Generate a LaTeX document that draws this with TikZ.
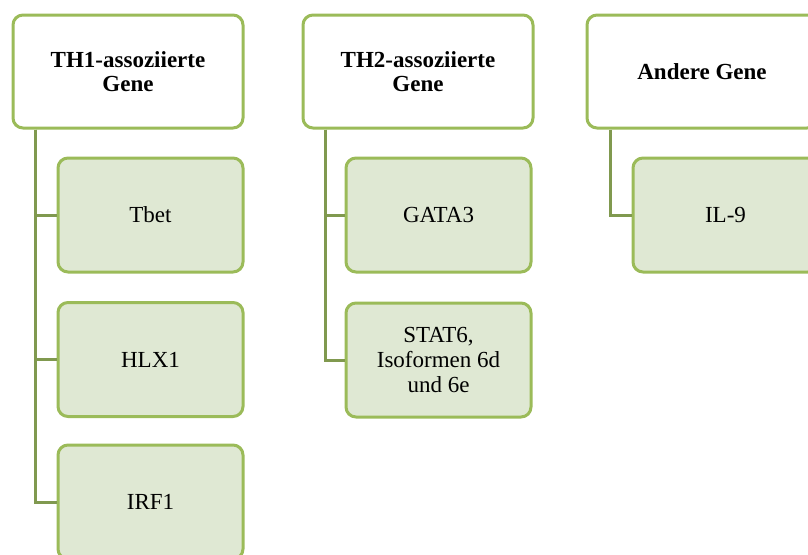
\documentclass[tikz,border=0pt]{standalone}
\usepackage{fontspec}
\setmainfont{Liberation Serif}
\definecolor{bordergreen}{HTML}{9BBB59}
\definecolor{conngreen}{HTML}{80994F}
\definecolor{childfill}{HTML}{DFE8D3}
\begin{document}
\begin{tikzpicture}[x=1pt,y=1pt,
  headbox/.style={draw=bordergreen, line width=3pt, rounded corners=10pt, fill=white,
    minimum width=230pt, minimum height=113pt, align=center,
    font=\fontsize{23}{24}\selectfont\bfseries},
  childbox/.style={draw=bordergreen, line width=3pt, rounded corners=10pt, fill=childfill,
    minimum width=185pt, minimum height=114pt, align=center,
    font=\fontsize{23}{25}\selectfont},
  conn/.style={draw=conngreen, line width=3pt}]
\useasboundingbox (0,0) rectangle (808,-554);
\clip (0,0) rectangle (808,-554);
% headers
\node[headbox] (h1) at (128,-71.5) {TH1-assoziierte\\Gene};
\node[headbox] (h2) at (418,-71.5) {TH2-assoziierte\\Gene};
\node[headbox] (h3) at (702,-71.5) {Andere Gene};
% children
\node[childbox] (tbet) at (150.5,-215) {Tbet};
\node[childbox] (hlx) at (150.5,-359.5) {HLX1};
\node[childbox] (irf) at (150.5,-502) {IRF1};
\node[childbox] (gata) at (438.5,-215) {GATA3};
\node[childbox] (stat) at (438.5,-360) {STAT6,\\Isoformen 6d\\und 6e};
\node[childbox] (il) at (725.5,-215) {IL-9};
% connectors
\coordinate (v1) at ([xshift=24pt]h1.south west);
\coordinate (v2) at ([xshift=24pt]h2.south west);
\coordinate (v3) at ([xshift=25pt]h3.south west);
\begin{scope}[on background layer/.style={}]
\draw[conn] (v1) |- (tbet.west);
\draw[conn] (v1) |- (hlx.west);
\draw[conn] (v1) |- (irf.west);
\draw[conn] (v2) |- (gata.west);
\draw[conn] (v2) |- (stat.west);
\draw[conn] (v3) |- (il.west);
\end{scope}
\end{tikzpicture}
\end{document}
